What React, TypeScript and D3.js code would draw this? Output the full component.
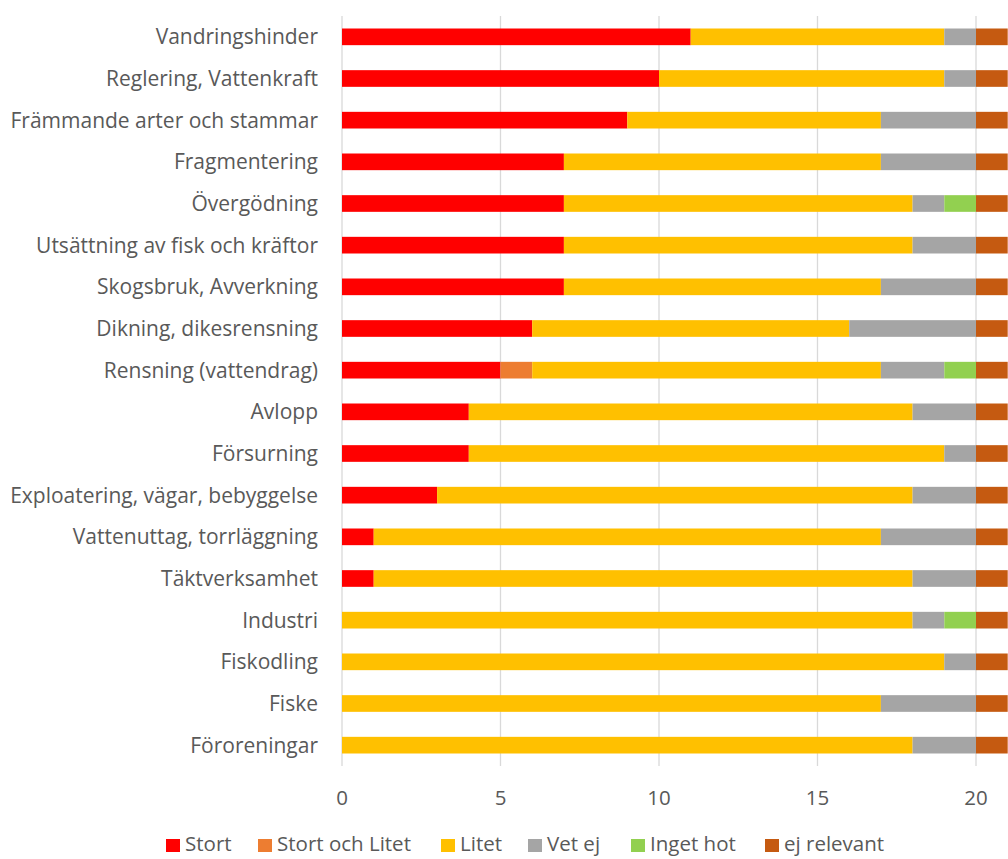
import React from 'react';
import * as d3 from 'd3';

const categories = [
  'Vandringshinder',
  'Reglering, Vattenkraft',
  'Främmande arter och stammar',
  'Fragmentering',
  'Övergödning',
  'Utsättning av fisk och kräftor',
  'Skogsbruk, Avverkning',
  'Dikning, dikesrensning',
  'Rensning (vattendrag)',
  'Avlopp',
  'Försurning',
  'Exploatering, vägar, bebyggelse',
  'Vattenuttag, torrläggning',
  'Täktverksamhet',
  'Industri',
  'Fiskodling',
  'Fiske',
  'Föroreningar',
];

const seriesNames = ['Stort', 'Stort och Litet', 'Litet', 'Vet ej', 'Inget hot', 'ej relevant'];
const seriesColors = ['#FF0000', '#ED7D31', '#FFC000', '#A5A5A5', '#92D050', '#C55A11'];

const stort = [11, 10, 9, 7, 7, 7, 7, 6, 5, 4, 4, 3, 1, 1, 0, 0, 0, 0];
const stortOchLitet = [0, 0, 0, 0, 0, 0, 0, 0, 1, 0, 0, 0, 0, 0, 0, 0, 0, 0];
const litet = [8, 9, 8, 10, 11, 11, 10, 10, 11, 14, 15, 15, 16, 17, 18, 19, 17, 18];
const vetEj = [1, 1, 3, 3, 1, 2, 3, 4, 2, 2, 1, 2, 3, 2, 1, 1, 3, 2];
const ingetHot = [0, 0, 0, 0, 1, 0, 0, 0, 1, 0, 0, 0, 0, 0, 1, 0, 0, 0];
const ejRelevant = [1, 1, 1, 1, 1, 1, 1, 1, 1, 1, 1, 1, 1, 1, 1, 1, 1, 1];

const xTicks = [0, 5, 10, 15, 20];

const W = 1008;
const H = 859;
const FONT = '"Open Sans", "Liberation Sans", sans-serif';
const TEXT = '#595959';

export default function App() {
  const values = [stort, stortOchLitet, litet, vetEj, ingetHot, ejRelevant];
  const rows = categories.map((c, i) => {
    const r: any = { cat: c };
    seriesNames.forEach((s, j) => { r[s] = values[j][i]; });
    return r;
  });
  const stacked = d3.stack().keys(seriesNames)(rows);

  const x = d3.scaleLinear().domain([0, 20]).range([342, 976]);
  const y = d3.scaleBand().domain(categories).range([16, 766]).paddingInner(0.6).paddingOuter(0.3);

  // legend item left edges (marker)
  const legendX = [166, 258, 441, 528, 631, 765];

  return (
    <svg width={W} height={H} style={{ position: 'absolute', left: 0, top: 0, background: '#fff' }}
      fontFamily={FONT}>
      {xTicks.map(t => (
        <line key={'g' + t} x1={x(t)} x2={x(t)} y1={16} y2={766} stroke="#D9D9D9" strokeWidth={1.3} />
      ))}
      {stacked.map((layer, j) => (
        <g key={layer.key} fill={seriesColors[j]}>
          {layer.map((d, i) => d[1] - d[0] > 0 ? (
            <rect key={i} x={x(d[0])} y={y(categories[i])} width={x(d[1]) - x(d[0])} height={y.bandwidth()} />
          ) : null)}
        </g>
      ))}
      {categories.map(c => (
        <text key={c} x={318} y={(y(c) as number) + y.bandwidth() / 2} dy="0.35em" textAnchor="end"
          fontSize={21} fill={TEXT}>{c}</text>
      ))}
      {xTicks.map(t => (
        <text key={'t' + t} x={x(t)} y={805} textAnchor="middle" fontSize={20.5} fill={TEXT}>{t}</text>
      ))}
      {seriesNames.map((s, j) => (
        <g key={s}>
          <rect x={legendX[j]} y={839} width={14} height={13} fill={seriesColors[j]} />
          <text x={legendX[j] + 19} y={851} fontSize={20.5} fill={TEXT}>{s}</text>
        </g>
      ))}
    </svg>
  );
}
